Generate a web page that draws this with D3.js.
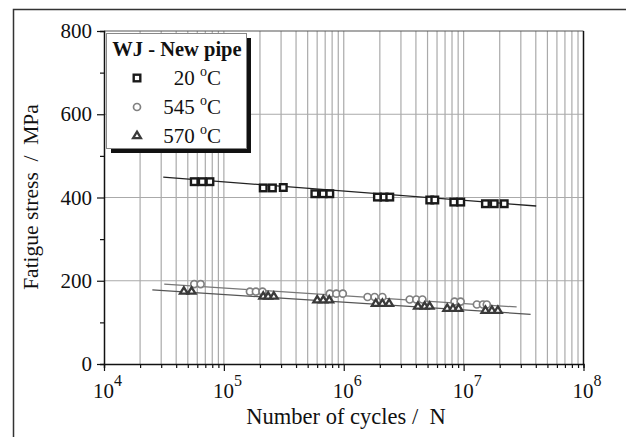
<!DOCTYPE html>
<html><head><meta charset="utf-8">
<script src="https://cdn.jsdelivr.net/npm/d3@7"></script>
<style>
body{margin:0;background:#fff}
svg{display:block}
text{font-family:"Liberation Serif","Times New Roman",serif;fill:#111}
</style>
</head><body>
<svg id="c" width="626" height="437"></svg>
<script>
// ---- data ----
const n20  = [5.66e4,6.6e4,7.65e4, 2.13e5,2.54e5,3.13e5, 5.74e5,6.73e5,7.65e5, 1.91e6,2.17e6,2.42e6, 5.22e6,5.75e6, 8.28e6,9.46e6, 1.52e7,1.8e7,2.18e7];
const s20  = [438,438,438, 423,423,424, 409,409,409, 401,401,401, 394,394, 389,389, 385,385,385];
const n545 = [5.66e4,6.4e4, 1.65e5,1.85e5,2.1e5, 7.65e5,8.67e5,9.82e5, 1.58e6,1.81e6,2.1e6, 3.55e6,4.03e6,4.53e6, 8.4e6,9.44e6, 1.29e7,1.45e7,1.56e7];
const s545 = [192,192, 174,174,174, 169,169,169, 161,161,161, 155,155,155, 150,150, 143,143,143];
const n570 = [4.64e4,5.38e4, 2.13e5,2.34e5,2.61e5, 6.01e5,6.75e5,7.57e5, 1.85e6,2.1e6,2.39e6, 4.16e6,4.73e6,5.21e6, 7.3e6,8.15e6,9.08e6, 1.52e7,1.72e7,1.93e7];
const s570 = [175,175, 163,163,163, 154,154,154, 146,146,146, 139,139,139, 134,134,134, 129,129,129];
// fitted lines [N, stress] end points
const fit20  = [[3.12e4,449],[4.03e7,379.6]];
const fit545 = [[3.18e4,192],[2.77e7,137]];
const fit570 = [[2.53e4,178],[3.62e7,119.4]];
const xExp = [4,5,6,7,8];
const yTicks = [0,200,400,600,800];
const legendTitle = "WJ - New pipe";
const legendLabels = ["20","545","570"];

// ---- chart ----
const svg = d3.select("#c");
const x = d3.scaleLog().domain([1e4,1e8]).range([104,583.5]);
const y = d3.scaleLinear().domain([0,800]).range([364,31]);

// outer frame
svg.append("rect").attr("x",13.5).attr("y",9.5).attr("width",640).attr("height",460)
  .attr("fill","none").attr("stroke","#333").attr("stroke-width",1.5);

// grid
const minor = [];
for (let e=4;e<8;e++) for (let k=1;k<=9;k++) minor.push(k*Math.pow(10,e));
minor.push(1e8);
const gx = minor.filter(v=>v>1e4 && v<1e8);
svg.append("g").selectAll("line").data(gx).join("line")
  .attr("x1",d=>x(d)).attr("x2",d=>x(d)).attr("y1",y(0)).attr("y2",y(800))
  .attr("stroke","#aaa").attr("stroke-width",1.2);
svg.append("g").selectAll("line").data([200,400,600]).join("line")
  .attr("x1",x(1e4)).attr("x2",x(1e8)).attr("y1",d=>y(d)).attr("y2",d=>y(d))
  .attr("stroke","#aaa").attr("stroke-width",1.2);
svg.append("line").attr("x1",x(1e4)).attr("x2",x(1e8)).attr("y1",y(800)).attr("y2",y(800))
  .attr("stroke","#555").attr("stroke-width",1.2);
svg.append("line").attr("x1",x(1e8)).attr("x2",x(1e8)).attr("y1",y(0)).attr("y2",y(800))
  .attr("stroke","#111").attr("stroke-width",1.5);

// axes
const xAxis = d3.axisBottom(x).tickValues(minor).tickSize(4).tickFormat("");
const gxa = svg.append("g").attr("transform",`translate(0,${y(0)})`).call(xAxis);
gxa.selectAll(".tick line").filter(d=>xExp.some(e=>Math.abs(Math.log10(d)-e)<1e-9)).attr("y2",7);
gxa.select(".domain").attr("stroke","#111").attr("stroke-width",1.5);
gxa.selectAll(".tick line").attr("stroke","#111").attr("stroke-width",1.2);

const yAxis = d3.axisLeft(y).tickValues(d3.range(0,801,100)).tickSize(4).tickFormat("");
const gya = svg.append("g").attr("transform",`translate(${x(1e4)},0)`).call(yAxis);
gya.selectAll(".tick line").filter(d=>d%200===0).attr("x2",-7);
gya.select(".domain").attr("stroke","#111").attr("stroke-width",1.5);
gya.selectAll(".tick line").attr("stroke","#111").attr("stroke-width",1.2);

// tick labels
svg.append("g").selectAll("text").data(yTicks).join("text")
  .attr("x",92).attr("y",d=>y(d)+7).attr("text-anchor","end")
  .style("font-size","21px").text(d=>d);
const xl = svg.append("g").selectAll("text").data(xExp).join("text")
  .attr("x",d=>x(Math.pow(10,d))-11).attr("y",398).style("font-size","21px");
xl.append("tspan").text("10");
xl.append("tspan").attr("dy",-12).style("font-size","16px").text(d=>d);

// axis titles
svg.append("text").attr("x",346).attr("y",424).attr("text-anchor","middle")
  .style("font-size","22.5px").style("white-space","pre").text("Number of cycles /  N");
svg.append("text").attr("transform","translate(38,197) rotate(-90)").attr("text-anchor","middle")
  .style("font-size","21.5px").style("white-space","pre").text("Fatigue stress  /  MPa");

// fit lines
const ln = d3.line().x(d=>x(d[0])).y(d=>y(d[1]));
svg.append("path").attr("d",ln(fit20)).attr("stroke","#222").attr("stroke-width",1.3).attr("fill","none");
svg.append("path").attr("d",ln(fit545)).attr("stroke","#777").attr("stroke-width",1.3).attr("fill","none");
svg.append("path").attr("d",ln(fit570)).attr("stroke","#555").attr("stroke-width",1.3).attr("fill","none");

// markers
function sq(g,cx,cy){g.append("rect").attr("x",cx-3.3).attr("y",cy-3.3).attr("width",6.6).attr("height",6.6)
  .attr("fill","#fff").attr("stroke","#1a1a1a").attr("stroke-width",2.4);}
function ci(g,cx,cy){g.append("circle").attr("cx",cx).attr("cy",cy).attr("r",3.5)
  .attr("fill","#fff").attr("stroke","#808080").attr("stroke-width",1.7);}
function tr(g,cx,cy){const h=6.4,w=3.9;g.append("path")
  .attr("d",`M${cx},${cy-h*0.6}L${cx+w},${cy+h*0.4}L${cx-w},${cy+h*0.4}Z`)
  .attr("fill","#fff").attr("stroke","#3a3a3a").attr("stroke-width",2.3).attr("stroke-linejoin","miter");}

const gm = svg.append("g");
n545.forEach((n,i)=>ci(gm,x(n),y(s545[i])));
n570.forEach((n,i)=>tr(gm,x(n),y(s570[i])));
n20.forEach((n,i)=>sq(gm,x(n),y(s20[i])));

// legend
const lg = svg.append("g");
lg.append("rect").attr("x",111).attr("y",38).attr("width",140).attr("height",115).attr("fill","#111");
lg.append("rect").attr("x",106.5).attr("y",33.5).attr("width",140).attr("height",115)
  .attr("fill","#fff").attr("stroke","#888").attr("stroke-width",1);
lg.append("text").attr("x",177).attr("y",56).attr("text-anchor","middle")
  .style("font-size","20.5px").style("font-weight","bold").text(legendTitle);
const rowsY = [85,114,142.5];
const mk = [sq,ci,tr];
legendLabels.forEach((lab,i)=>{
  mk[i](lg,137,rowsY[i]-7);
  const t = lg.append("text").attr("x",221).attr("y",rowsY[i]).attr("text-anchor","end").style("font-size","21px");
  t.append("tspan").text(lab+" ");
  t.append("tspan").attr("dy",-9).style("font-size","14px").text("o");
  t.append("tspan").attr("dy",9).text("C");
});
</script>
</body></html>
